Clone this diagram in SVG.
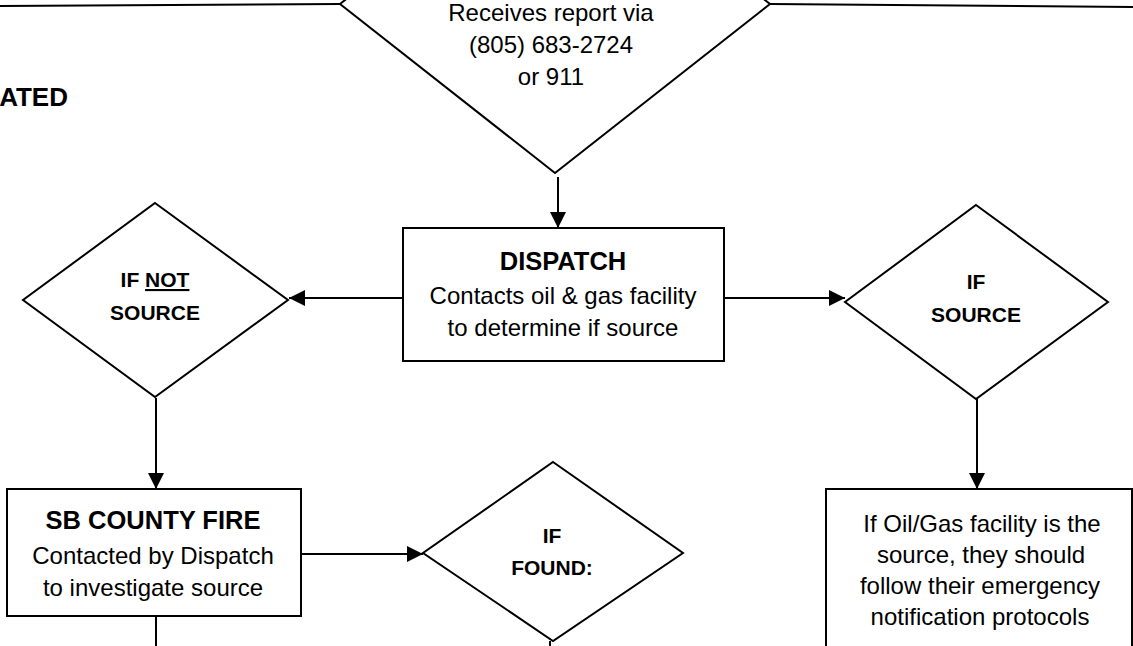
<svg xmlns="http://www.w3.org/2000/svg" width="1133" height="646" viewBox="0 0 1133 646">
<defs>
<style>
.shape{fill:#fff;stroke:#000;stroke-width:2}
.conn{fill:none;stroke:#000;stroke-width:2}
text{font-family:"Liberation Sans",Arial,sans-serif;fill:#000;text-anchor:middle}
.t{font-size:24px}
.h{font-size:25.5px;font-weight:bold}
.d{font-size:21px;font-weight:bold}
</style>
<marker id="arr" markerUnits="userSpaceOnUse" markerWidth="16" markerHeight="16" viewBox="0 0 16 16" refX="16" refY="8" orient="auto">
<path d="M0,0 L16,8 L0,16 Z" fill="#000"/>
</marker>
</defs>
<rect width="1133" height="646" fill="#fff"/>

<g id="connectors">
<polyline class="conn" points="0,6 340,4"/>
<polyline class="conn" points="770,4 1133,7"/>
<line class="conn" x1="558" y1="177" x2="558" y2="228" marker-end="url(#arr)"/>
<line class="conn" x1="403" y1="298" x2="289" y2="298" marker-end="url(#arr)"/>
<line class="conn" x1="724" y1="298" x2="845" y2="298" marker-end="url(#arr)"/>
<line class="conn" x1="156" y1="398" x2="156" y2="489" marker-end="url(#arr)"/>
<line class="conn" x1="977" y1="399" x2="977" y2="489" marker-end="url(#arr)"/>
<line class="conn" x1="301" y1="554" x2="423" y2="554" marker-end="url(#arr)"/>
<line class="conn" x1="156" y1="616" x2="156" y2="646"/>
<line class="conn" x1="550" y1="641" x2="550" y2="646"/>
</g>

<g id="label-ated">
<text class="h" x="68" y="106" style="text-anchor:end;font-size:26px">ATED</text>
</g>

<g id="node-receives">
<polygon class="shape" points="555,-165 770,4 555,173 340,4"/>
<text class="t" x="551" y="21">Receives report via</text>
<text class="t" x="551" y="53">(805) 683-2724</text>
<text class="t" x="551" y="85">or 911</text>
</g>

<g id="node-dispatch">
<rect class="shape" x="403" y="228" width="321" height="133"/>
<text class="h" x="563" y="270">DISPATCH</text>
<text class="t" x="563" y="304">Contacts oil &amp; gas facility</text>
<text class="t" x="563" y="336">to determine if source</text>
</g>

<g id="node-if-not-source">
<polygon class="shape" points="155,203 288,300 155,397 23,300"/>
<text class="d" x="155" y="287">IF <tspan text-decoration="underline">NOT</tspan></text>
<text class="d" x="155" y="320">SOURCE</text>
</g>

<g id="node-if-source">
<polygon class="shape" points="976,205 1108,302 976,399 845,302"/>
<text class="d" x="976" y="289">IF</text>
<text class="d" x="976" y="322">SOURCE</text>
</g>

<g id="node-sb-county-fire">
<rect class="shape" x="7" y="489" width="294" height="127"/>
<text class="h" x="153" y="529">SB COUNTY FIRE</text>
<text class="t" x="153" y="564">Contacted by Dispatch</text>
<text class="t" x="153" y="596">to investigate source</text>
</g>

<g id="node-if-found">
<polygon class="shape" points="553,462 683,553 553,641 423,553"/>
<text class="d" x="552" y="543">IF</text>
<text class="d" x="552" y="575">FOUND:</text>
</g>

<g id="node-facility-source">
<rect class="shape" x="826" y="489" width="306" height="170"/>
<text class="t" x="982" y="532">If Oil/Gas facility is the</text>
<text class="t" x="981" y="563">source, they should</text>
<text class="t" x="980" y="594">follow their emergency</text>
<text class="t" x="980" y="625">notification protocols</text>
</g>
</svg>
